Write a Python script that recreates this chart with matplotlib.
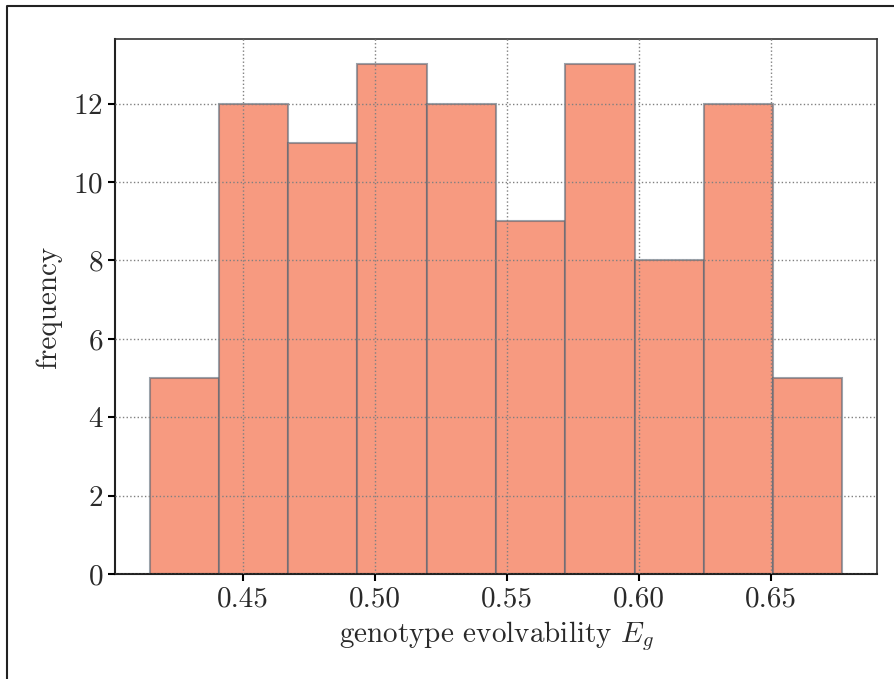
import numpy as np
import matplotlib
matplotlib.use("Agg")
import matplotlib.pyplot as plt
from matplotlib.lines import Line2D

plt.rcParams['font.family'] = ['cmr10', 'DejaVu Serif']
plt.rcParams['mathtext.fontset'] = 'cm'
plt.rcParams['axes.formatter.use_mathtext'] = True

# histogram of genotype evolvability
bin_edges = [0.4148, 0.4410, 0.4672, 0.4934, 0.5196, 0.5459,
             0.5721, 0.5983, 0.6245, 0.6507, 0.6769]
counts = [5, 12, 11, 13, 12, 9, 13, 8, 12, 5]
xticks = [0.45, 0.50, 0.55, 0.60, 0.65]
yticks = [0, 2, 4, 6, 8, 10, 12]

fig = plt.figure(figsize=(8.95, 6.79), dpi=100)
ax = fig.add_axes([0.1285, 0.1546, 0.8514, 0.788])

edges = np.array(bin_edges)
ax.bar(edges[:-1], counts, width=np.diff(edges), align='edge',
       color='#f79a80', edgecolor=(0.35, 0.40, 0.45, 0.6), linewidth=1.5, zorder=1)

ax.set_axisbelow(False)
ax.grid(True, linestyle=':', color='grey', linewidth=1.0, zorder=3)
ax.set_xticks(xticks)
ax.set_xticklabels(['%.2f' % t for t in xticks])
ax.set_yticks(yticks)
ax.set_ylim(0, 13.65)
ax.tick_params(labelsize=21, width=1.5, length=5, direction='out',
               labelcolor='#2a2a2a')

for s in ['left', 'bottom']:
    ax.spines[s].set_linewidth(1.5)
    ax.spines[s].set_color('#222222')
for s in ['top', 'right']:
    ax.spines[s].set_linewidth(1.2)
    ax.spines[s].set_color('#333333')

ax.set_xlabel('genotype evolvability $E_g$', fontsize=21, labelpad=5, color='#2a2a2a')
ax.set_ylabel('frequency', fontsize=21, labelpad=8, color='#2a2a2a')

# frame around the figure (left and top)
fig.add_artist(Line2D([7/895, 7/895, 1.0], [0.0, 1 - 6/679, 1 - 6/679],
                      transform=fig.transFigure, color='#222222', linewidth=1.5))

fig.savefig('out.png', dpi=100)
